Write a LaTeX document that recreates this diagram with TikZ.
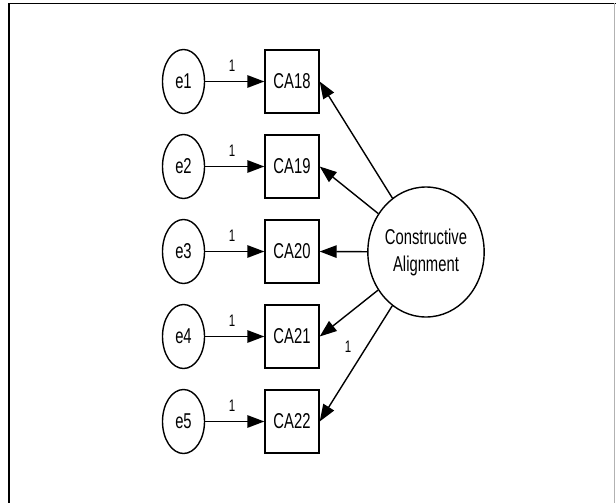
\documentclass[tikz,border=0pt]{standalone}
\usepackage{fontspec}
\setmainfont{Liberation Sans}
\usetikzlibrary{arrows.meta,shapes.geometric}
\newcommand{\vst}[1]{\scalebox{1}[1.45]{#1}}
\begin{document}
\begin{tikzpicture}[x=1pt,y=-1pt,
  errnode/.style={draw,line width=1.4pt,ellipse,minimum width=42pt,minimum height=64pt,inner sep=0pt,font=\fontsize{14.8}{16}\selectfont},
  obsbox/.style={draw,line width=1.4pt,rectangle,minimum width=54pt,minimum height=63pt,inner sep=0pt,font=\fontsize{14.8}{16}\selectfont},
  latnode/.style={draw,line width=1.4pt,ellipse,minimum width=108pt,minimum height=130pt,inner sep=0pt,align=center,font=\fontsize{14.8}{17}\selectfont},
  arr/.style={line width=1.4pt,-{Triangle[length=17pt,width=12.5pt]}},
  wlabel/.style={font=\fontsize{11.5}{12}\selectfont,inner sep=0pt}]
\useasboundingbox (0,0) rectangle (616,503);
\draw[line width=1.5pt] (9,503) -- (9,3.3) -- (616,3.3);
\draw[line width=1pt,gray!60] (614.5,3.3) -- (614.5,503);
\node[latnode] (L) at (426,252) {\vst{Constructive}\\[10pt]\vst{Alignment}};
\foreach \i/\n in {1/18,2/19,3/20,4/21,5/22}{
  \pgfmathsetmacro{\yy}{81.5+85*(\i-1)}
  \node[errnode] (e\i) at (183.5,\yy) {\vst{e\i}};
  \node[obsbox] (c\i) at (292,\yy) {\vst{CA\n}};
  \draw[arr] (e\i) -- (c\i);
  \node[wlabel] at (232,\yy-16) {\vst{1}};
  \draw[arr] (L) -- (c\i.east);
}
\node[wlabel] at (348,347) {\vst{1}};
\end{tikzpicture}
\end{document}
